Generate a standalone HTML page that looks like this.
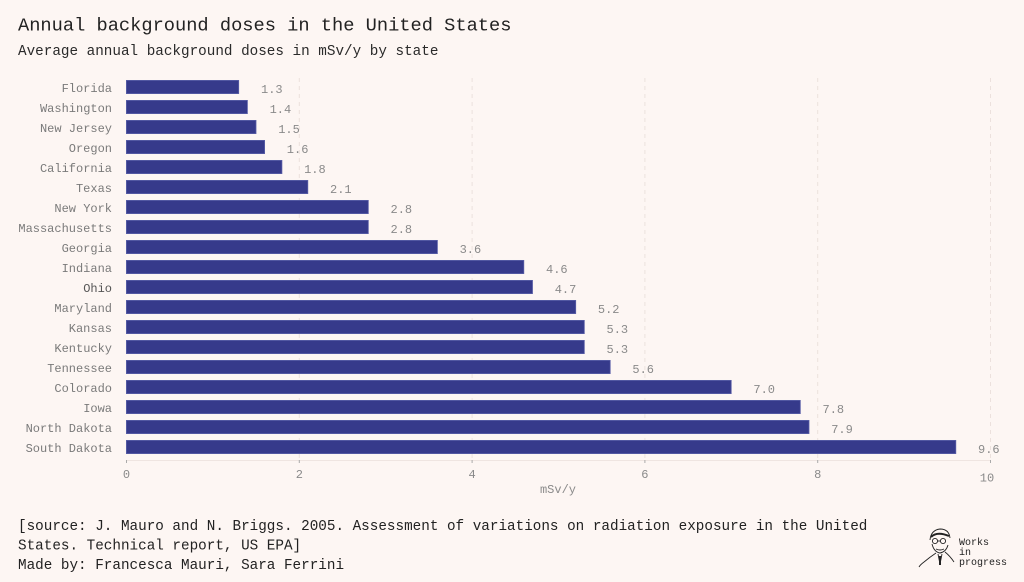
<!DOCTYPE html>
<html>
<head>
<meta charset="utf-8">
<style>
html,body{margin:0;padding:0;background:#fdf6f3;}
body{width:1024px;height:582px;overflow:hidden;font-family:"Liberation Mono","DejaVu Sans Mono",monospace;}
svg{display:block;}
</style>
</head>
<body>
<svg width="1024" height="582" viewBox="0 0 1024 582" xmlns="http://www.w3.org/2000/svg" font-family="Liberation Mono, DejaVu Sans Mono, monospace">
<rect width="1024" height="582" fill="#fdf6f3"/>
<text x="18" y="30.5" font-size="18.7" fill="#222">Annual background doses in the United States</text>
<text x="18" y="55" font-size="14.3" fill="#2a2a2a">Average annual background doses in mSv/y by state</text>

<!-- grid -->
<g stroke="#ece1dd" stroke-width="1" stroke-dasharray="4,4">
<line x1="299.3" y1="78" x2="299.3" y2="460"/>
<line x1="472.1" y1="78" x2="472.1" y2="460"/>
<line x1="644.9" y1="78" x2="644.9" y2="460"/>
<line x1="817.7" y1="78" x2="817.7" y2="460"/>
<line x1="990.5" y1="78" x2="990.5" y2="460"/>
</g>
<line x1="126" y1="460.5" x2="991" y2="460.5" stroke="#efe5e1" stroke-width="1"/>
<g stroke="#aaa" stroke-width="1">
<line x1="126.5" y1="460" x2="126.5" y2="463"/>
<line x1="299.3" y1="460" x2="299.3" y2="463"/>
<line x1="472.1" y1="460" x2="472.1" y2="463"/>
<line x1="644.9" y1="460" x2="644.9" y2="463"/>
<line x1="817.7" y1="460" x2="817.7" y2="463"/>
<line x1="990.5" y1="460" x2="990.5" y2="463"/>
</g>
<g font-size="12" fill="#8a8a8a" text-anchor="middle">
<text x="126.5" y="478">0</text>
<text x="299.3" y="478">2</text>
<text x="472.1" y="478">4</text>
<text x="644.9" y="478">6</text>
<text x="817.7" y="478">8</text>
<text x="987" y="481.5">10</text>
<text x="558" y="493">mSv/y</text>
</g>

<!-- bars -->
<g fill="#363a8b" stroke="#5a5fa8" stroke-width="0.8">
<rect x="126.4" y="80.4" width="112.3" height="13.2"/>
<rect x="126.4" y="100.4" width="121.0" height="13.2"/>
<rect x="126.4" y="120.4" width="129.6" height="13.2"/>
<rect x="126.4" y="140.4" width="138.2" height="13.2"/>
<rect x="126.4" y="160.4" width="155.5" height="13.2"/>
<rect x="126.4" y="180.4" width="181.4" height="13.2"/>
<rect x="126.4" y="200.4" width="241.9" height="13.2"/>
<rect x="126.4" y="220.4" width="241.9" height="13.2"/>
<rect x="126.4" y="240.4" width="311.0" height="13.2"/>
<rect x="126.4" y="260.4" width="397.4" height="13.2"/>
<rect x="126.4" y="280.4" width="406.1" height="13.2"/>
<rect x="126.4" y="300.4" width="449.3" height="13.2"/>
<rect x="126.4" y="320.4" width="457.9" height="13.2"/>
<rect x="126.4" y="340.4" width="457.9" height="13.2"/>
<rect x="126.4" y="360.4" width="483.8" height="13.2"/>
<rect x="126.4" y="380.4" width="604.8" height="13.2"/>
<rect x="126.4" y="400.4" width="673.9" height="13.2"/>
<rect x="126.4" y="420.4" width="682.6" height="13.2"/>
<rect x="126.4" y="440.4" width="829.4" height="13.2"/>
</g>

<!-- y labels -->
<g font-size="12" fill="#7a7a7a" text-anchor="end">
<text x="112" y="92">Florida</text>
<text x="112" y="112">Washington</text>
<text x="112" y="132">New Jersey</text>
<text x="112" y="152">Oregon</text>
<text x="112" y="172">California</text>
<text x="112" y="192">Texas</text>
<text x="112" y="212">New York</text>
<text x="112" y="232">Massachusetts</text>
<text x="112" y="252">Georgia</text>
<text x="112" y="272">Indiana</text>
<text x="112" y="292" fill="#555">Ohio</text>
<text x="112" y="312">Maryland</text>
<text x="112" y="332">Kansas</text>
<text x="112" y="352">Kentucky</text>
<text x="112" y="372">Tennessee</text>
<text x="112" y="392">Colorado</text>
<text x="112" y="412">Iowa</text>
<text x="112" y="432">North Dakota</text>
<text x="112" y="452">South Dakota</text>
</g>

<!-- value labels -->
<g font-size="12" fill="#8a8a8a">
<text x="261" y="93">1.3</text>
<text x="269.6" y="113">1.4</text>
<text x="278.2" y="133">1.5</text>
<text x="286.8" y="153">1.6</text>
<text x="304.1" y="173">1.8</text>
<text x="330" y="193">2.1</text>
<text x="390.5" y="213">2.8</text>
<text x="390.5" y="233">2.8</text>
<text x="459.6" y="253">3.6</text>
<text x="546" y="273">4.6</text>
<text x="554.7" y="293">4.7</text>
<text x="597.9" y="313">5.2</text>
<text x="606.5" y="333">5.3</text>
<text x="606.5" y="353">5.3</text>
<text x="632.4" y="373">5.6</text>
<text x="753.4" y="393">7.0</text>
<text x="822.5" y="413">7.8</text>
<text x="831.2" y="433">7.9</text>
<text x="978" y="453">9.6</text>
</g>

<!-- footer -->
<g font-size="14.3" fill="#222">
<text x="18" y="530">[source: J. Mauro and N. Briggs. 2005. Assessment of variations on radiation exposure in the United</text>
<text x="18" y="549.5">States. Technical report, US EPA]</text>
<text x="18" y="569">Made by: Francesca Mauri, Sara Ferrini</text>
</g>

<!-- logo -->
<g stroke="#222" fill="none" stroke-width="0.9">
<path d="M930 540 q1 -10 10 -11 q9 0 10 9"/>
<path d="M931 537 q6 -6 18 -1" stroke-width="2"/>
<circle cx="935" cy="541" r="2.6"/>
<circle cx="943" cy="541" r="2.6"/>
<line x1="937.6" y1="541" x2="940.4" y2="541"/>
<path d="M932 544 q2 8 8 9 q6 -1 8 -8"/>
<path d="M936 549 q4 2 8 0"/>
<path d="M936 553 q-6 4 -12 9 q-4 3 -5 5"/>
<path d="M945 552 q5 4 9 10"/>
<path d="M938 554 l2 10 l2 -10"/>
<path d="M940 556 l0 9" stroke-width="2"/>
</g>
<g font-size="10" fill="#222">
<text x="959" y="545">Works</text>
<text x="959" y="555">in</text>
<text x="959" y="565">progress</text>
</g>
</svg>
</body>
</html>
